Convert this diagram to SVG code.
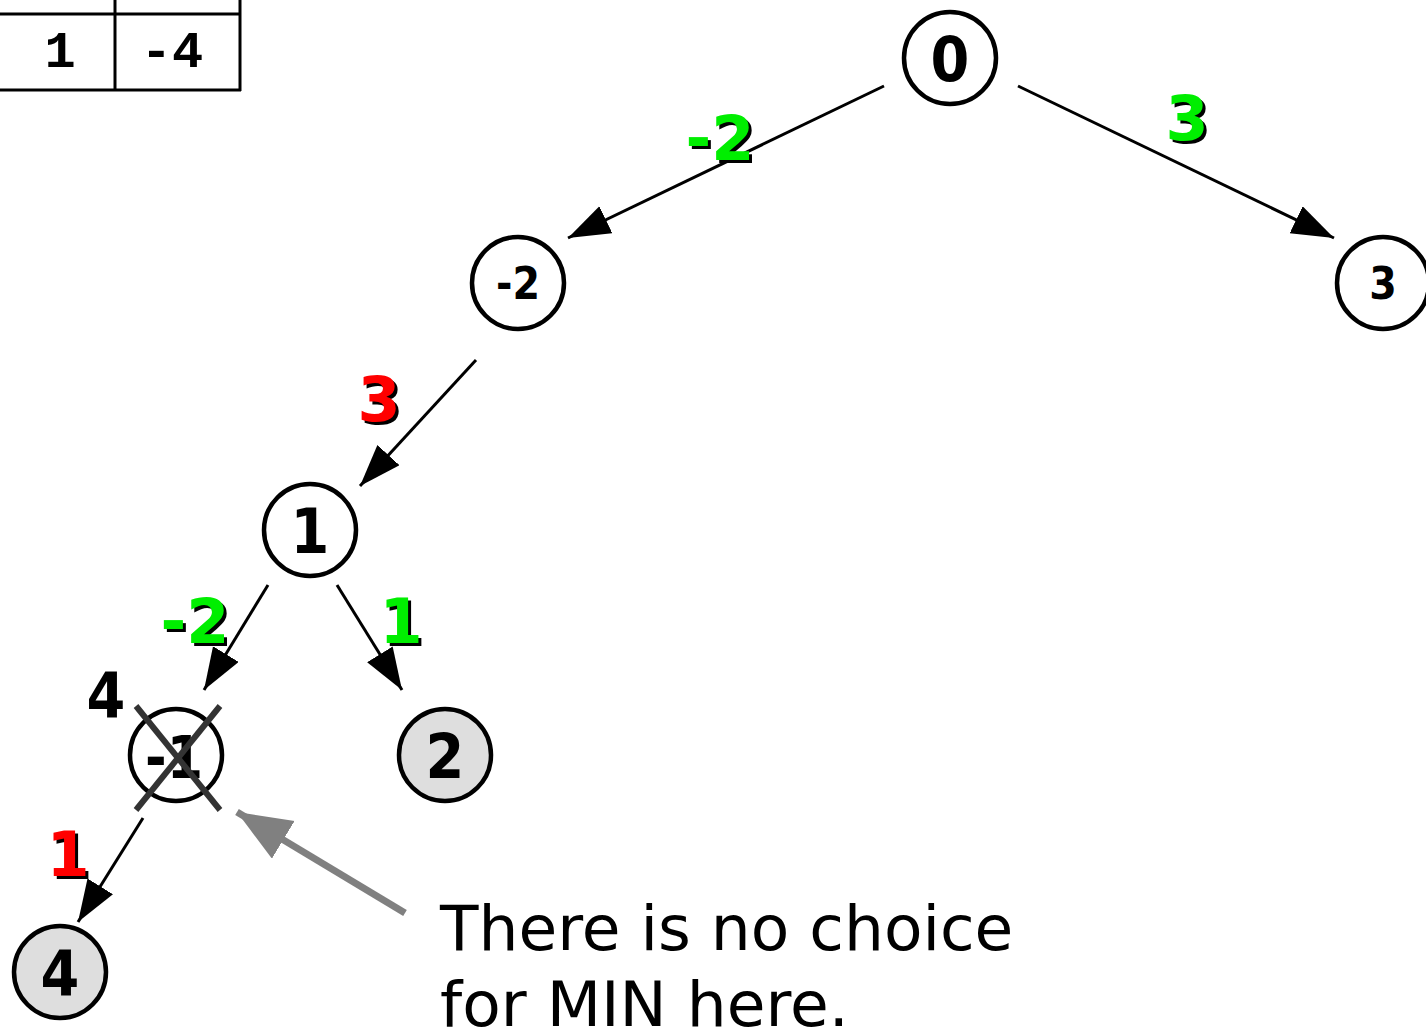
<svg xmlns="http://www.w3.org/2000/svg" width="1426" height="1034" viewBox="0 0 1426 1034">
  <style>
    .node { fill: #ffffff; stroke: #000000; stroke-width: 4.5; }
    .leaf { fill: #dedede; stroke: #000000; stroke-width: 4.5; }
    .big { font-family: "DejaVu Sans Condensed", "DejaVu Sans", sans-serif; font-stretch: condensed; font-weight: bold; font-size: 62px; text-anchor: middle; fill: #000; }
    .small { font-family: "DejaVu Sans Condensed", "DejaVu Sans", sans-serif; font-stretch: condensed; font-weight: bold; font-size: 44px; text-anchor: middle; fill: #000; }
    .edge { stroke: #000000; stroke-width: 3; fill: none; marker-end: url(#head); }
    .lbl { font-family: "DejaVu Sans", sans-serif; font-weight: bold; font-size: 62px; text-anchor: middle; }
    .shadow { fill: #000000; }
    .green { fill: #00ee00; }
    .red { fill: #ff0000; }
    .cell { font-family: "Liberation Mono", "DejaVu Sans Mono", monospace; font-weight: bold; font-size: 52px; text-anchor: middle; fill: #000; }
    .grid { stroke: #000; stroke-width: 3; fill: none; }
    .note { font-family: "DejaVu Sans", sans-serif; font-size: 63px; fill: #000; }
  </style>
  <defs>
    <marker id="head" markerUnits="userSpaceOnUse" markerWidth="44" markerHeight="32" refX="42" refY="15" orient="auto">
      <path d="M0,0 L42,15 L0,30 z" fill="#000"/>
    </marker>
    <marker id="grayhead" markerUnits="userSpaceOnUse" markerWidth="56" markerHeight="48" refX="54" refY="22" orient="auto">
      <path d="M0,0 L54,22 L0,44 z" fill="#808080"/>
    </marker>
  </defs>

  <!-- value table in the corner -->
  <g id="table">
    <line class="grid" x1="0" y1="14" x2="240" y2="14"/>
    <line class="grid" x1="0" y1="90" x2="241" y2="90"/>
    <line class="grid" x1="115" y1="0" x2="115" y2="90"/>
    <line class="grid" x1="240" y1="0" x2="240" y2="91"/>
    <text class="cell" x="60" y="67">1</text>
    <text class="cell" x="172" y="67">-4</text>
  </g>

  <!-- tree edges -->
  <g id="connectors">
    <line class="edge" x1="884" y1="86" x2="568" y2="238"/>
    <line class="edge" x1="1018" y1="86" x2="1334" y2="238"/>
    <line class="edge" x1="476" y1="360" x2="360" y2="486"/>
    <line class="edge" x1="268" y1="585" x2="204" y2="690"/>
    <line class="edge" x1="337" y1="585" x2="402" y2="690"/>
    <line class="edge" x1="143" y1="818" x2="78" y2="922"/>
    <line x1="405" y1="913" x2="237" y2="812" stroke="#808080" stroke-width="7" marker-end="url(#grayhead)"/>
  </g>

  <!-- edge labels with drop shadow -->
  <g id="edge-labels">
    <text class="lbl shadow" x="723" y="163">-2</text>
    <text class="lbl green" x="720" y="160">-2</text>
    <text class="lbl shadow" x="1190" y="143">3</text>
    <text class="lbl green" x="1187" y="140">3</text>
    <text class="lbl shadow" x="382" y="424">3</text>
    <text class="lbl red" x="379" y="421">3</text>
    <text class="lbl shadow" x="198" y="646">-2</text>
    <text class="lbl green" x="195" y="643">-2</text>
    <text class="lbl shadow" x="404" y="646">1</text>
    <text class="lbl green" x="401" y="643">1</text>
    <text class="lbl shadow" x="71" y="879">1</text>
    <text class="lbl red" x="68" y="876">1</text>
  </g>

  <g id="n0">
    <circle class="node" cx="950" cy="58" r="46"/>
    <text class="big" x="950" y="81">0</text>
  </g>
  <g id="nm2">
    <circle class="node" cx="518" cy="283" r="46"/>
    <text class="small" x="518" y="299">-2</text>
  </g>
  <g id="n3">
    <circle class="node" cx="1383" cy="283" r="46"/>
    <text class="small" x="1383" y="299">3</text>
  </g>
  <g id="n1">
    <circle class="node" cx="310" cy="530" r="46"/>
    <text class="big" x="310" y="553">1</text>
  </g>
  <g id="nm1">
    <circle class="node" cx="176" cy="755" r="46"/>
    <text class="big" x="174" y="778" style="font-size:58px">-1</text>
    <line x1="136" y1="706" x2="220" y2="810" stroke="#333333" stroke-width="6"/>
    <line x1="220" y1="706" x2="136" y2="810" stroke="#333333" stroke-width="6"/>
    <text class="big" x="106" y="717">4</text>
  </g>
  <g id="n2">
    <circle class="leaf" cx="445" cy="755" r="46"/>
    <text class="big" x="445" y="778">2</text>
  </g>
  <g id="n4">
    <circle class="leaf" cx="60" cy="972" r="46"/>
    <text class="big" x="60" y="995">4</text>
  </g>

  <g id="note">
    <text class="note" x="440" y="950">There is no choice</text>
    <text class="note" x="440" y="1026">for MIN here.</text>
  </g>
</svg>
